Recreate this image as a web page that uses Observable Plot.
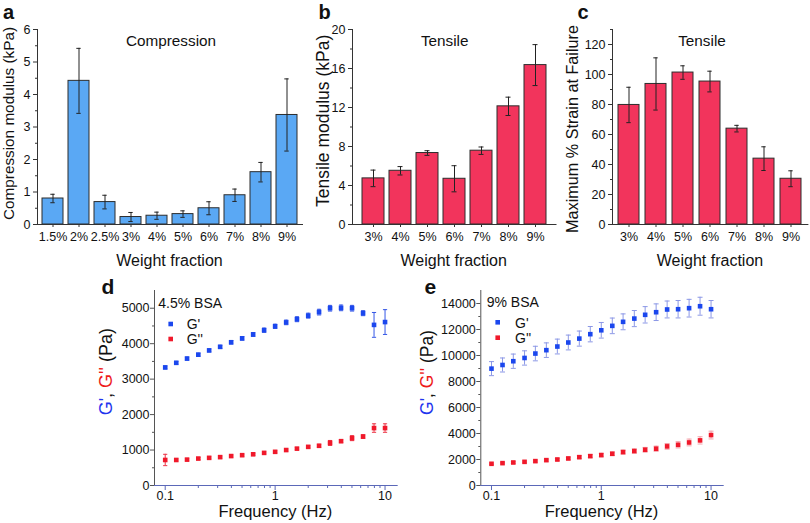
<!DOCTYPE html>
<html>
<head>
<meta charset="utf-8">
<script src="https://cdn.jsdelivr.net/npm/d3@7"></script>
<script src="https://cdn.jsdelivr.net/npm/@observablehq/plot@0.6"></script>
<style>
  html, body { margin: 0; padding: 0; background: #fff; }
  #fig { position: relative; width: 810px; height: 523px; overflow: hidden;
         font-family: "Liberation Sans", Arial, sans-serif; }
  .panel { position: absolute; }
  #overlay { position: absolute; left: 0; top: 0; pointer-events: none; }
</style>
</head>
<body>
<div id="fig"></div>
<script>
// ---------- data ----------
const compCats = ["1.5%", "2%", "2.5%", "3%", "4%", "5%", "6%", "7%", "8%", "9%"];
const compValues = [0.80, 4.42, 0.69, 0.23, 0.27, 0.32, 0.50, 0.90, 1.61, 3.37];
const compErrors = [0.13, 1.00, 0.21, 0.14, 0.11, 0.10, 0.20, 0.19, 0.30, 1.11];

const tensCats = ["3%", "4%", "5%", "6%", "7%", "8%", "9%"];
const tensileValues = [4.73, 5.51, 7.33, 4.69, 7.57, 12.12, 16.35];
const tensileErrors = [0.85, 0.43, 0.24, 1.34, 0.38, 0.94, 2.10];
const strainValues = [79.7, 93.7, 101.3, 95.3, 63.9, 43.9, 30.5];
const strainErrors = [11.8, 17.4, 4.5, 6.9, 2.2, 7.9, 5.3];

const freqHz = [0.1, 0.126, 0.158, 0.2, 0.251, 0.316, 0.398, 0.501, 0.631, 0.794,
                1, 1.26, 1.58, 2, 2.51, 3.16, 3.98, 5.01, 6.31, 7.94, 10];
// 4.5% BSA
const gStorage45 = [3330, 3460, 3580, 3690, 3810, 3910, 4040, 4150, 4260, 4380,
                    4490, 4600, 4690, 4790, 4890, 5000, 5010, 5000, 4860, 4530, 4610];
const gStorage45Err = [40, 40, 40, 40, 40, 45, 50, 50, 55, 60,
                       60, 65, 70, 70, 80, 80, 80, 80, 70, 350, 350];
const gLoss45 = [720, 720, 730, 760, 780, 800, 830, 855, 880, 920,
                 950, 1000, 1040, 1090, 1120, 1200, 1250, 1335, 1380, 1620, 1620];
const gLoss45Err = [160, 30, 30, 30, 30, 30, 30, 30, 30, 30,
                    30, 30, 30, 30, 40, 70, 40, 70, 50, 120, 120];
// 9% BSA
const gStorage9 = [8990, 9270, 9560, 9810, 10150, 10410, 10690, 11000, 11300, 11640,
                   11940, 12280, 12590, 12840, 13130, 13330, 13540, 13560, 13640, 13790, 13560];
const gStorage9Err = [540, 540, 550, 550, 560, 560, 570, 570, 580, 590,
                      600, 600, 610, 620, 630, 640, 650, 670, 680, 690, 670];
const gLoss9 = [1670, 1720, 1770, 1820, 1875, 1950, 2000, 2080, 2180, 2260,
                2340, 2440, 2570, 2650, 2750, 2830, 3010, 3130, 3310, 3470, 3880];
const gLoss9Err = [60, 60, 70, 70, 80, 80, 90, 100, 110, 120,
                   130, 140, 150, 160, 180, 200, 220, 240, 260, 280, 300];

// tick labels / tick values
const compTicks = [0, 1, 2, 3, 4, 5, 6];
const compMinor = [0.5, 1.5, 2.5, 3.5, 4.5, 5.5];
const tensTicks = [0, 4, 8, 12, 16, 20];
const tensMinor = [2, 6, 10, 14, 18];
const strainTicks = [0, 20, 40, 60, 80, 100, 120];
const strainMinor = [10, 30, 50, 70, 90, 110, 130];
const freqTicks = [0.1, 1, 10];
const freqMinor = [0.2, 0.3, 0.4, 0.5, 0.6, 0.7, 0.8, 0.9, 2, 3, 4, 5, 6, 7, 8, 9];
const g45Ticks = [0, 1000, 2000, 3000, 4000, 5000];
const g45Minor = [500, 1500, 2500, 3500, 4500];
const g9Ticks = [0, 2000, 4000, 6000, 8000, 10000, 12000, 14000];
const g9Minor = [1000, 3000, 5000, 7000, 9000, 11000, 13000];

// ---------- helpers ----------
const FONT = '"Liberation Sans", Arial, sans-serif';
const fig = document.getElementById("fig");
const BLUE_BAR = "#5aa8f4";
const RED_BAR = "#f2345c";
const OUTLINE = "#2d2d2d";
const PT_BLUE = "#1b47ee";
const PT_RED = "#f0192b";
const plain = d => d3.format("~g")(d);

const capSymbol = {
  draw(ctx, size) {
    const w = Math.sqrt(size / Math.PI);
    ctx.moveTo(-w, 0);
    ctx.lineTo(w, 0);
  }
};

function place(node, left, top) {
  const wrap = document.createElement("div");
  wrap.className = "panel";
  wrap.style.left = left + "px";
  wrap.style.top = top + "px";
  wrap.appendChild(node);
  fig.appendChild(wrap);
}

function zip(cats, vals, errs) {
  return cats.map((c, i) => ({cat: c, value: vals[i], err: errs[i]}));
}

function barPanel({cats, vals, errs, fill, yDomain, ticks, minor, width, height,
                   marginLeft, marginRight, paddingInner, paddingOuter, capInset}) {
  const data = zip(cats, vals, errs);
  return Plot.plot({
    width, height, marginLeft, marginRight, marginTop: 29, marginBottom: height - 224,
    style: {fontFamily: FONT, fontSize: "12.5px", color: "#111", background: "transparent", overflow: "visible"},
    x: {domain: cats, paddingInner, paddingOuter, label: null},
    y: {domain: yDomain, label: null},
    marks: [
      Plot.barY(data, {x: "cat", y: "value", fill, stroke: OUTLINE, strokeWidth: 1}),
      Plot.ruleX(data, {x: "cat", y1: d => d.value - d.err, y2: d => d.value + d.err, stroke: "#222", strokeWidth: 1}),
      Plot.tickY(data, {x: "cat", y: d => d.value + d.err, insetLeft: capInset, insetRight: capInset, stroke: "#222", strokeWidth: 1}),
      Plot.tickY(data, {x: "cat", y: d => d.value - d.err, insetLeft: capInset, insetRight: capInset, stroke: "#222", strokeWidth: 1}),
      Plot.axisY({ticks, tickFormat: plain, tickSize: 4, tickPadding: 3, label: null, stroke: "#333"}),
      Plot.axisY({ticks: minor, tickSize: 2, tickFormat: () => "", label: null, stroke: "#333"}),
      Plot.axisX({tickSize: 3, tickPadding: 5, label: null, stroke: "#333"}),
      Plot.frame({anchor: "left", stroke: "#333"}),
      Plot.frame({anchor: "bottom", stroke: "#333"})
    ]
  });
}

function rheoPanel({storage, storageErr, loss, lossErr, yDomain, ticks, minor,
                    marginLeft, marginRight, errBlue, errRed, capR}) {
  const data = freqHz.map((f, i) => ({
    f, gs: storage[i], gsE: storageErr[i], gl: loss[i], glE: lossErr[i]
  }));
  return Plot.plot({
    width: 320, height: 253, marginLeft, marginRight, marginTop: 20, marginBottom: 38,
    style: {fontFamily: FONT, fontSize: "12.5px", color: "#111", background: "transparent", overflow: "visible"},
    x: {type: "log", domain: [0.0799, 12.9], label: null},
    y: {domain: yDomain, label: null},
    marks: [
      Plot.ruleX(data, {x: "f", y1: d => d.gs - d.gsE, y2: d => d.gs + d.gsE, stroke: errBlue, strokeWidth: 1}),
      Plot.dot(data, {x: "f", y: d => d.gs + d.gsE, symbol: capSymbol, r: capR, stroke: errBlue, strokeWidth: 1, fill: "none"}),
      Plot.dot(data, {x: "f", y: d => d.gs - d.gsE, symbol: capSymbol, r: capR, stroke: errBlue, strokeWidth: 1, fill: "none"}),
      Plot.ruleX(data, {x: "f", y1: d => d.gl - d.glE, y2: d => d.gl + d.glE, stroke: errRed, strokeWidth: 1}),
      Plot.dot(data, {x: "f", y: d => d.gl + d.glE, symbol: capSymbol, r: capR, stroke: errRed, strokeWidth: 1, fill: "none"}),
      Plot.dot(data, {x: "f", y: d => d.gl - d.glE, symbol: capSymbol, r: capR, stroke: errRed, strokeWidth: 1, fill: "none"}),
      Plot.dot(data, {x: "f", y: "gs", symbol: "square", r: 2.6, fill: PT_BLUE, stroke: null}),
      Plot.dot(data, {x: "f", y: "gl", symbol: "square", r: 2.6, fill: PT_RED, stroke: null}),
      Plot.axisY({ticks, tickFormat: plain, tickSize: 4, tickPadding: 1, label: null, stroke: "#555"}),
      Plot.axisY({ticks: minor, tickSize: 2, tickFormat: () => "", label: null, stroke: "#555"}),
      Plot.axisX({ticks: freqTicks, tickFormat: plain, tickSize: 5, tickPadding: 1, label: null, stroke: "#5b68b8"}),
      Plot.axisX({ticks: freqMinor, tickSize: 3, tickFormat: () => "", label: null, stroke: "#5b68b8"}),
      Plot.frame({anchor: "left", stroke: "#555"}),
      Plot.frame({anchor: "bottom", stroke: "#5b68b8"})
    ]
  });
}

// ---------- panels ----------
place(barPanel({cats: compCats, vals: compValues, errs: compErrors, fill: BLUE_BAR,
  yDomain: [0, 6], ticks: compTicks, minor: compMinor, width: 310, height: 270,
  marginLeft: 37, marginRight: 8, paddingInner: 0.19, paddingOuter: 0.05, capInset: 8.3}), 0, 0);

place(barPanel({cats: tensCats, vals: tensileValues, errs: tensileErrors, fill: RED_BAR,
  yDomain: [0, 20], ticks: tensTicks, minor: tensMinor, width: 250, height: 270,
  marginLeft: 42, marginRight: 4.5, paddingInner: 0.195, paddingOuter: 0.27, capInset: 8.5}), 310, 0);

place(barPanel({cats: tensCats, vals: strainValues, errs: strainErrors, fill: RED_BAR,
  yDomain: [0, 130], ticks: strainTicks, minor: strainMinor, width: 250, height: 270,
  marginLeft: 52, marginRight: 2.6, paddingInner: 0.22, paddingOuter: 0.13, capInset: 8.3}), 560, 0);

place(rheoPanel({storage: gStorage45, storageErr: gStorage45Err, loss: gLoss45, lossErr: gLoss45Err,
  yDomain: [0, 5500], ticks: g45Ticks, minor: g45Minor, marginLeft: 64, marginRight: 13.3,
  errBlue: "#3557e6", errRed: "#ec3446", capR: 2.1}), 90, 270);

place(rheoPanel({storage: gStorage9, storageErr: gStorage9Err, loss: gLoss9, lossErr: gLoss9Err,
  yDomain: [0, 15000], ticks: g9Ticks, minor: g9Minor, marginLeft: 70.3, marginRight: 7.3,
  errBlue: "#8c98e6", errRed: "#f4a2aa", capR: 2.5}), 410, 270);

// ---------- overlay text ----------
const NS = "http://www.w3.org/2000/svg";
const svg = document.createElementNS(NS, "svg");
svg.setAttribute("id", "overlay");
svg.setAttribute("width", 810);
svg.setAttribute("height", 523);
svg.style.fontFamily = FONT;
fig.appendChild(svg);

function txt(parts, x, y, size, opts = {}) {
  const t = document.createElementNS(NS, "text");
  t.setAttribute("font-size", size);
  t.setAttribute("fill", "#111");
  if (opts.anchor) t.setAttribute("text-anchor", opts.anchor);
  if (opts.weight) t.setAttribute("font-weight", opts.weight);
  if (opts.rotate) {
    t.setAttribute("transform", `translate(${x},${y}) rotate(-90)`);
    t.setAttribute("x", 0); t.setAttribute("y", 0);
  } else {
    t.setAttribute("x", x); t.setAttribute("y", y);
  }
  (Array.isArray(parts) ? parts : [[parts, null]]).forEach(([s, c]) => {
    const ts = document.createElementNS(NS, "tspan");
    if (c) ts.setAttribute("fill", c);
    ts.textContent = s;
    t.appendChild(ts);
  });
  svg.appendChild(t);
}
function sq(cx, cy, color) {
  const r = document.createElementNS(NS, "rect");
  r.setAttribute("x", cx - 2.3); r.setAttribute("y", cy - 2.3);
  r.setAttribute("width", 4.6); r.setAttribute("height", 4.6);
  r.setAttribute("fill", color);
  svg.appendChild(r);
}

// panel letters
txt("a", 3, 18.5, 20, {weight: "bold"});
txt("b", 318.5, 18.5, 20, {weight: "bold"});
txt("c", 577.5, 18.5, 20, {weight: "bold"});
txt("d", 101.5, 294, 21, {weight: "bold"});
txt("e", 424.5, 294, 21, {weight: "bold"});

// inner titles
txt("Compression", 171, 45.7, 15.3, {anchor: "middle"});
txt("Tensile", 444.7, 45.7, 15.3, {anchor: "middle"});
txt("Tensile", 702, 45.7, 15.3, {anchor: "middle"});

// x titles
txt("Weight fraction", 169.5, 265.5, 16, {anchor: "middle"});
txt("Weight fraction", 453.7, 265.5, 16, {anchor: "middle"});
txt("Weight fraction", 710, 265.5, 16, {anchor: "middle"});
txt("Frequency (Hz)", 275.3, 517, 16.5, {anchor: "middle"});
txt("Frequency (Hz)", 601.5, 517, 16.5, {anchor: "middle"});

// y titles
txt("Compression modulus (kPa)", 14.3, 123.5, 15.3, {anchor: "middle", rotate: true});
txt("Tensile modulus (kPa)", 329, 120.8, 17.5, {anchor: "middle", rotate: true});
txt("Maximum % Strain at Failure", 578.3, 129, 16.2, {anchor: "middle", rotate: true});
const gLabel = [["G'", "#1f35ee"], [", ", null], ["G''", "#ee1a1a"], [" (Pa)", null]];
txt(gLabel, 111.5, 371.7, 18, {anchor: "middle", rotate: true});
txt(gLabel, 432.5, 372.5, 17.5, {anchor: "middle", rotate: true});

// legends
txt("4.5% BSA", 158.3, 307.7, 14);
sq(170.7, 324, PT_BLUE); txt("G'", 186.7, 328.5, 14);
sq(170.7, 339, PT_RED); txt("G''", 186.7, 344, 14);
txt("9% BSA", 486.7, 307.3, 14);
sq(497.7, 322.3, PT_BLUE); txt("G'", 515, 327.5, 14);
sq(497.7, 337.7, PT_RED); txt("G''", 515, 343, 14);
</script>
</body>
</html>
